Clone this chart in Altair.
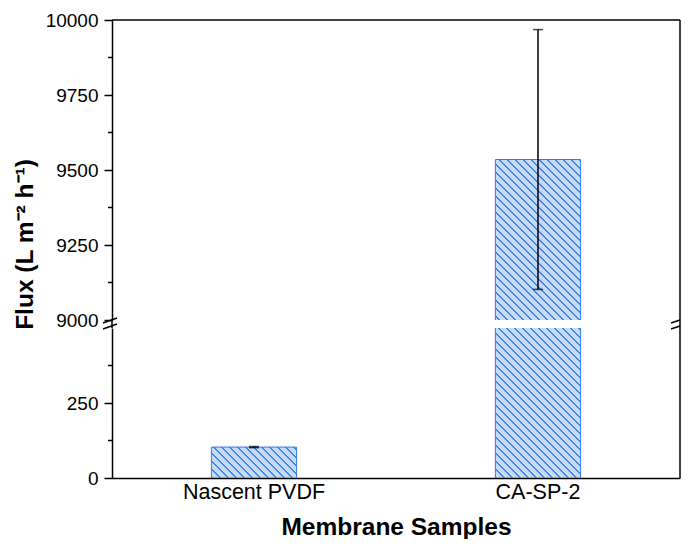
import altair as alt
import pandas as pd

# ---------------- data ----------------
categories = ["Nascent PVDF", "CA-SP-2"]
flux = [103, 9535]
flux_err = [2, 433]

top_domain = [9000, 10000]
top_ticks = [9000, 9250, 9500, 9750, 10000]
top_minor = [9125, 9375, 9625, 9875]
bot_domain = [0, 500]
bot_ticks = [0, 250]
bot_minor = [125, 375]

# ---------------- style ----------------
FONT = "Liberation Sans"
FILL = "#c6daf6"
HATCH = "#3f86ea"
EDGE = "#2f7cee"
W, HT, HB, GAP = 568, 300, 150, 8
PAD_IN, PAD_OUT = 0.7, 0.35
TOP_BASE = 8985   # bar base drawn just below the upper segment (clipped)
BOT_CUT = 510     # bar top drawn just above the lower segment (clipped)

df = pd.DataFrame({"sample": categories, "flux": flux, "err": flux_err})

kt = HT / (top_domain[1] - top_domain[0])
kb = HB / (bot_domain[1] - bot_domain[0])
step = W / (len(categories) - PAD_IN + 2 * PAD_OUT)
band = step * (1 - PAD_IN)


def hatch(w, h, spacing=8.0, line=2.0):
    """Diagonal '\\' hatch as a hard-stop linear gradient (objectBoundingBox units)."""
    s = w * (w + h) / (w * w + h * h)
    n = (w + h) / spacing
    f = line / spacing
    stops = []
    k = 0
    while k < n:
        a = min(k / n, 1.0)
        b = min((k + f) / n, 1.0)
        c = min((k + 1) / n, 1.0)
        stops += [
            {"offset": round(a, 5), "color": HATCH},
            {"offset": round(b, 5), "color": HATCH},
            {"offset": round(b, 5), "color": FILL},
            {"offset": round(c, 5), "color": FILL},
        ]
        k += 1
    return {"gradient": "linear", "x1": 0, "y1": 1, "x2": s, "y2": 1 - s * h / w, "stops": stops}


xscale = alt.Scale(domain=categories, paddingInner=PAD_IN, paddingOuter=PAD_OUT)
tscale = alt.Scale(domain=top_domain, nice=False, zero=False)
bscale = alt.Scale(domain=bot_domain, nice=False)

yax_top = alt.Axis(
    values=top_ticks, format="d", tickSize=8, labelPadding=6, labelFontSize=19,
    title="Flux (L m⁻² h⁻¹)", titleFontSize=24.5, titleFontWeight="bold",
    titleX=-87, titleY=224, titleAngle=270, titleAlign="center", titleBaseline="middle",
)
yax_bot = alt.Axis(values=bot_ticks, format="d", tickSize=8, labelPadding=6,
                   labelFontSize=19, title=None)
xax_bot = alt.Axis(
    labelAngle=0, ticks=False, tickSize=0, labelPadding=3, labelFontSize=21.5,
    title="Membrane Samples", titleFontSize=24.5, titleFontWeight="bold", titlePadding=13,
)


def seg(x1, y1, x2, y2, w=1.5):
    return alt.Chart(alt.Data(values=[{}])).mark_rule(color="black", strokeWidth=w).encode(
        x=alt.value(x1), x2=alt.value(x2), y=alt.value(y1), y2=alt.value(y2)
    )


def panel(scale, yax, xax, lo_dom, hi_dom, minor, bar_top, bar_base, k, h, extra):
    layers = []
    for c, v in zip(categories, flux):
        if v <= lo_dom:
            continue
        hpx = (min(v, bar_top) - bar_base) * k
        layers.append(
            alt.Chart(df).transform_filter(alt.datum.sample == c)
            .transform_calculate(top=f"min(datum.flux, {bar_top})")
            .mark_bar(fill=hatch(band, hpx), stroke=EDGE, strokeWidth=1, clip=True)
            .encode(
                x=alt.X("sample:N", scale=xscale, axis=xax),
                y=alt.Y("top:Q", scale=scale, axis=yax),
                y2=alt.datum(bar_base),
            )
        )
    err = alt.Chart(df).transform_calculate(
        lo="datum.flux - datum.err", hi="datum.flux + datum.err"
    ).transform_filter(f"datum.lo >= {lo_dom} && datum.hi <= {hi_dom}")
    layers += [
        err.mark_rule(color="black", strokeWidth=1.5).encode(
            x=alt.X("sample:N", scale=xscale, axis=xax),
            y=alt.Y("lo:Q", scale=scale, axis=yax), y2="hi:Q"),
        err.mark_tick(color="black", size=10, thickness=1.5).encode(
            x=alt.X("sample:N", scale=xscale, axis=xax),
            y=alt.Y("lo:Q", scale=scale, axis=yax)),
        err.mark_tick(color="black", size=10, thickness=1.5).encode(
            x=alt.X("sample:N", scale=xscale, axis=xax),
            y=alt.Y("hi:Q", scale=scale, axis=yax)),
        alt.Chart(pd.DataFrame({"m": minor})).mark_rule(color="black", strokeWidth=1.5).encode(
            y=alt.Y("m:Q", scale=scale, axis=yax), x=alt.value(-4), x2=alt.value(0)),
    ]
    layers += extra
    return alt.layer(*layers).properties(width=W, height=h)


top = panel(tscale, yax_top, None, top_domain[0], top_domain[1], top_minor,
            10 ** 9, TOP_BASE, kt, HT,
            [seg(0, 0, W, 0), seg(W, 0, W, HT)])

bottom = panel(bscale, yax_bot, xax_bot, bot_domain[0] - 1, bot_domain[1], bot_minor,
               BOT_CUT, 0, kb, HB,
               [seg(W, 0, W, HB),
                seg(0, -GAP, 0, 0), seg(W, -GAP, W, 0),
                seg(-9, -5, 5, -10), seg(-9, 1, 5, -4),
                seg(W - 9, -5, W, -8), seg(W - 9, 1, W, -2)])

chart = alt.vconcat(top, bottom, spacing=GAP, bounds="flush").properties(
    padding={"left": 4, "top": 3, "right": 0, "bottom": 0}
).configure_axis(
    labelFont=FONT, titleFont=FONT, labelColor="black", titleColor="black",
    domainColor="black", tickColor="black", domainWidth=1.5, tickWidth=1.5, grid=False,
).configure_view(stroke=None)

chart.save("out.html", embed_options={"renderer": "svg", "actions": False})
